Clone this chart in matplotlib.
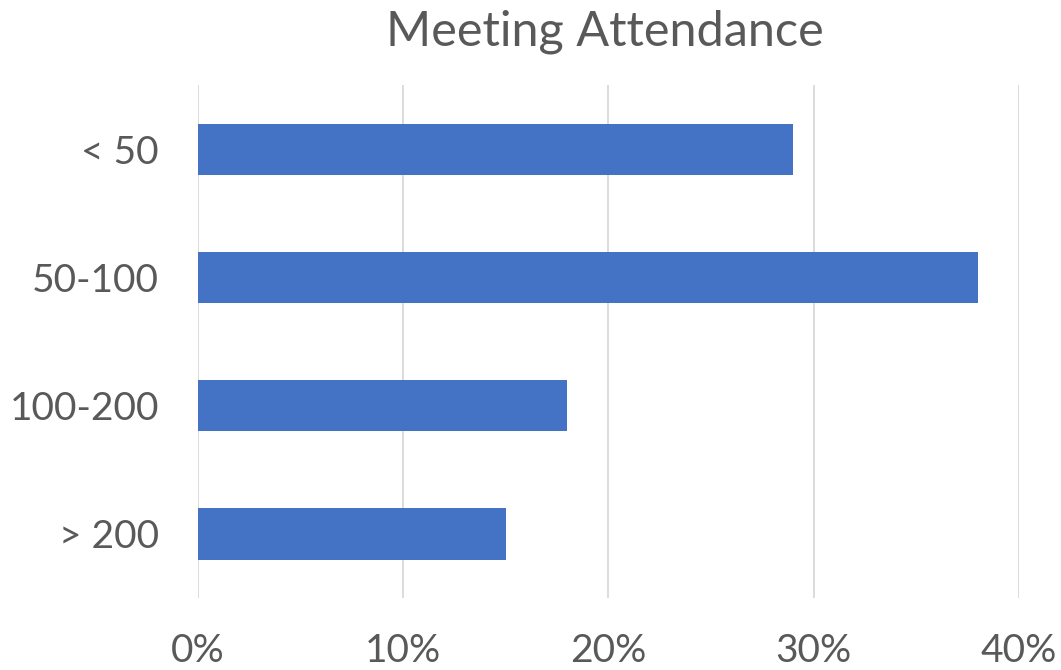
import matplotlib.pyplot as plt
from matplotlib.ticker import PercentFormatter

categories = ['< 50', '50-100', '100-200', '> 200']
shares = [29, 38, 18, 15]
xticks = [0, 10, 20, 30, 40]

plt.rcParams['font.family'] = ['Lato', 'DejaVu Sans']
grey = '#595959'

fig = plt.figure(figsize=(10.61, 6.70), dpi=100)
ax = fig.add_axes([0.1866, 0.1075, 0.7738, 0.7655])

ax.barh(range(len(categories)), shares, height=0.4, color='#4472C4', zorder=3)
ax.set_yticks(range(len(categories)))
ax.set_yticklabels(categories)
ax.set_ylim(3.5, -0.5)
ax.set_xlim(0, 40)
ax.set_xticks(xticks)
ax.xaxis.set_major_formatter(PercentFormatter(decimals=0))

ax.grid(axis='x', color='#D9D9D9', linewidth=1.3, zorder=0)
for s in ax.spines.values():
    s.set_visible(False)
ax.tick_params(length=0, labelsize=28, labelcolor=grey)
ax.tick_params(axis='x', pad=25)
ax.tick_params(axis='y', pad=28)

fig.text(0.570, 0.952, 'Meeting Attendance', ha='center', va='center',
         fontsize=35, color=grey)

fig.savefig('out.png', dpi=100)
